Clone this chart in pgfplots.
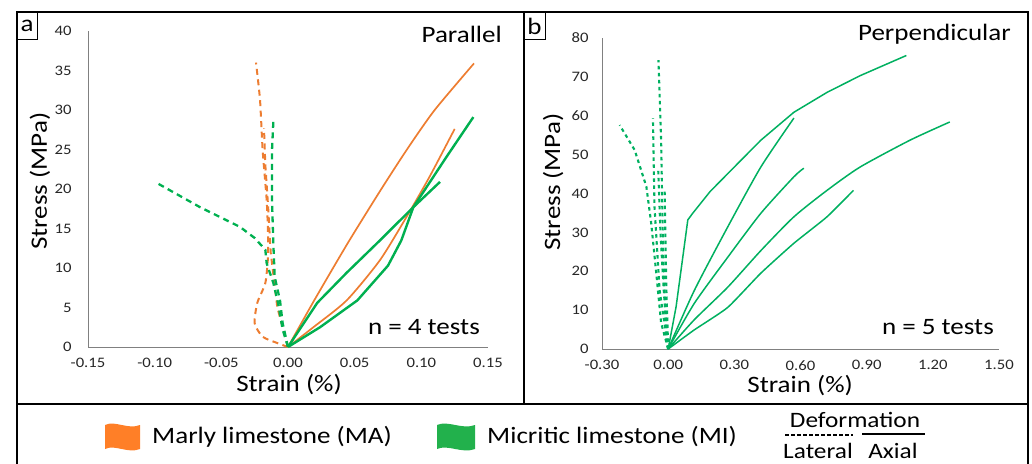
\documentclass[border=0pt]{standalone}
\usepackage{fontspec}
\setmainfont[FakeStretch=1.15]{Carlito}
\usepackage{pgfplots}
\pgfplotsset{compat=1.18}
\definecolor{orl}{RGB}{237,125,49}
\definecolor{grl}{RGB}{0,176,80}
\definecolor{grr}{RGB}{0,176,96}
\definecolor{legor}{RGB}{255,127,39}
\definecolor{leggr}{RGB}{34,177,76}
\newcommand{\fs}[1]{\fontsize{#1}{#1}\selectfont}
\pgfplotsset{
  myax/.style={scale only axis, axis lines=left,
    axis line style={-, draw=black!50, line width=0.9pt},
    major tick length=0pt,
    tick label style={font=\fs{14.5}, text=black!85},
    /pgf/number format/assume math mode=true,
    xticklabel style={/pgf/number format/fixed, /pgf/number format/fixed zerofill, /pgf/number format/precision=2},
    label style={font=\fs{23.5}},
    clip=false},
  latL/.style={dash pattern=on 6pt off 4.5pt, line width=2.3pt},
  axL/.style={line width=1.7pt},
  latR/.style={grr, dash pattern=on 3.5pt off 3.5pt, line width=2.1pt},
  axR/.style={grr, line width=1.5pt},
}
\begin{document}
\begin{tikzpicture}[x=1pt,y=1pt]
\useasboundingbox (0,0) rectangle (1032,463);
% ---------- panel a ----------
\begin{axis}[myax, at={(88pt,116pt)}, anchor=south west,
  width=400pt, height=316pt,
  xmin=-0.15, xmax=0.15, ymin=0, ymax=40,
  xtick={-0.15,-0.10,-0.05,0,0.05,0.10,0.15},
  ytick={0,5,10,15,20,25,30,35,40},
  xticklabel style={yshift=-8pt}, yticklabel style={xshift=-13pt},
  xlabel={Strain (\%)}, ylabel={Stress (MPa)},
  xlabel style={at={(axis description cs:0.5025,-0.12)}, anchor=center},
  ylabel style={at={(axis description cs:-0.12,0.525)}, anchor=center}]
% axial
\addplot[orl, axL, smooth, tension=0.4] coordinates {(0,0) (0.02,6) (0.045,13.2) (0.07,20) (0.09,25.2) (0.11,30) (0.1395,35.9)};
\addplot[orl, axL, smooth, tension=0.4] coordinates {(0,0) (0.019,2.5) (0.044,5.9) (0.069,11) (0.089,16.5) (0.106,21.5) (0.125,27.6)};
\addplot[grl, line width=2.4pt] coordinates {(0,0) (0.024,2.5) (0.052,5.9) (0.075,10.3) (0.085,13.5) (0.094,17.7) (0.119,24.1) (0.139,29.1)};
\addplot[grl, line width=2.4pt] coordinates {(0,0) (0.022,5.6) (0.044,9.4) (0.069,13.5) (0.094,17.7) (0.114,20.9)};
% lateral
\addplot[orl, latL, line width=2pt, smooth, tension=0.4] coordinates {(0,0) (-0.008,0.5) (-0.019,1.3) (-0.025,3.0) (-0.023,5.6) (-0.017,8.1) (-0.015,11.4) (-0.015,14.4) (-0.016,18.6) (-0.019,24.9) (-0.021,31.3) (-0.024,36)};
\addplot[orl, latL, line width=2pt] coordinates {(0,0) (-0.008,5) (-0.013,12) (-0.015,18) (-0.017,23) (-0.018,27.7)};
\addplot[grl, latL] coordinates {(0,0) (-0.004,3) (-0.006,5.9) (-0.010,8.9) (-0.011,13.1) (-0.012,18.6) (-0.012,24.9) (-0.011,28.5)};
\addplot[grl, latL] coordinates {(0,0) (-0.004,2.2) (-0.0075,5.6) (-0.011,8.1) (-0.016,10.6) (-0.017,12.3) (-0.025,13.8) (-0.036,15.2) (-0.066,17.7) (-0.0998,20.9)};
\end{axis}
% ---------- panel b ----------
\begin{axis}[myax, at={(602pt,114pt)}, anchor=south west,
  width=397pt, height=311pt,
  xmin=-0.3, xmax=1.5, ymin=0, ymax=80,
  xtick={-0.3,0,0.3,0.6,0.9,1.2,1.5},
  ytick={0,10,20,30,40,50,60,70,80},
  xticklabel style={yshift=-8pt}, yticklabel style={xshift=-10pt},
  xlabel={Strain (\%)}, ylabel={Stress (MPa)},
  xlabel style={at={(axis description cs:0.499,-0.116)}, anchor=center},
  ylabel style={at={(axis description cs:-0.123,0.537)}, anchor=center}]
\addplot[axR] coordinates {(0,0) (0.036,10.9) (0.066,23.5) (0.089,33.2) (0.111,34.9) (0.19,40.5) (0.27,45.1) (0.42,53.7) (0.57,60.9) (0.72,66) (0.87,70.3) (1.08,75.5)};
\addplot[axR, smooth, tension=0.4] coordinates {(0,0) (0.118,15) (0.27,31.4) (0.42,46.8) (0.57,59.4)};
\addplot[axR, smooth, tension=0.4] coordinates {(0,0) (0.118,11.7) (0.27,23.6) (0.42,34.9) (0.57,44.3) (0.615,46.5)};
\addplot[axR, smooth, tension=0.4] coordinates {(0,0) (0.118,7.5) (0.27,15.9) (0.42,25.3) (0.57,34) (0.72,40.8) (0.87,46.8) (1.096,53.7) (1.277,58.4)};
\addplot[axR, smooth, tension=0.3] coordinates {(0,0) (0.118,4.9) (0.27,10.7) (0.42,19.5) (0.57,27.2) (0.72,34) (0.84,40.8)};
\addplot[latR] coordinates {(0,0) (-0.009,2.3) (-0.024,28) (-0.032,53.7) (-0.044,74.3)};
\addplot[latR] coordinates {(0,0) (-0.039,15.2) (-0.062,36.6) (-0.069,59.3)};
\addplot[latR] coordinates {(0,0) (-0.032,6.7) (-0.054,19.5) (-0.077,32.4) (-0.099,41.8) (-0.152,51.2) (-0.22,57.6)};
\addplot[latR] coordinates {(0,0) (-0.02,15) (-0.035,30) (-0.045,46)};
\addplot[latR] coordinates {(0,0) (-0.008,15) (-0.013,30) (-0.016,41)};
\end{axis}
% ---------- frames and annotations ----------
\draw[line width=1.3pt] (17,59) rectangle (1028,451);
\draw[line width=1.3pt] (524,59) -- (524,451);
\draw[line width=1.3pt] (17,59) -- (17,-5);
\draw[line width=1.3pt] (1028,59) -- (1028,-5);
\draw[line width=1pt] (17,423) rectangle (37,451);
\draw[line width=1pt] (524,423) rectangle (545,451);
\node[font=\fs{23.5}] at (27,437) {a};
\node[font=\fs{23.5}] at (534.5,437) {b};
\node[font=\fs{23.5}, anchor=east, inner sep=0pt] at (502,429) {Parallel};
\node[font=\fs{23.5}, anchor=east, inner sep=0pt] at (480,136) {n = 4 tests};
\node[font=\fs{23.5}, anchor=east, inner sep=0pt] at (1011,429) {Perpendicular};
\node[font=\fs{23.5}, anchor=east, inner sep=0pt] at (994,136) {n = 5 tests};
% ---------- legend ----------
\fill[legor] (105,14) .. controls (115,19) and (128,9) .. (140,14) -- (140,38) .. controls (128,33) and (115,43) .. (105,38) -- cycle;
\node[font=\fs{23.5}, anchor=west, inner sep=0pt] at (152,26) {Marly limestone (MA)};
\fill[leggr] (437,14) .. controls (448,19) and (462,9) .. (475,14) -- (475,38) .. controls (462,33) and (448,43) .. (437,38) -- cycle;
\node[font=\fs{23.5}, anchor=west, inner sep=0pt] at (487,26) {Micritic limestone (MI)};
\node[font=\fs{22}] at (855,43) {Deformation};
\draw[line width=1.5pt, dash pattern=on 4pt off 2pt] (785,28) -- (853,28);
\draw[line width=1.5pt] (862,29) -- (925,29);
\node[font=\fs{22}] at (818,12) {Lateral};
\node[font=\fs{22}] at (893,12) {Axial};
\end{tikzpicture}
\end{document}
